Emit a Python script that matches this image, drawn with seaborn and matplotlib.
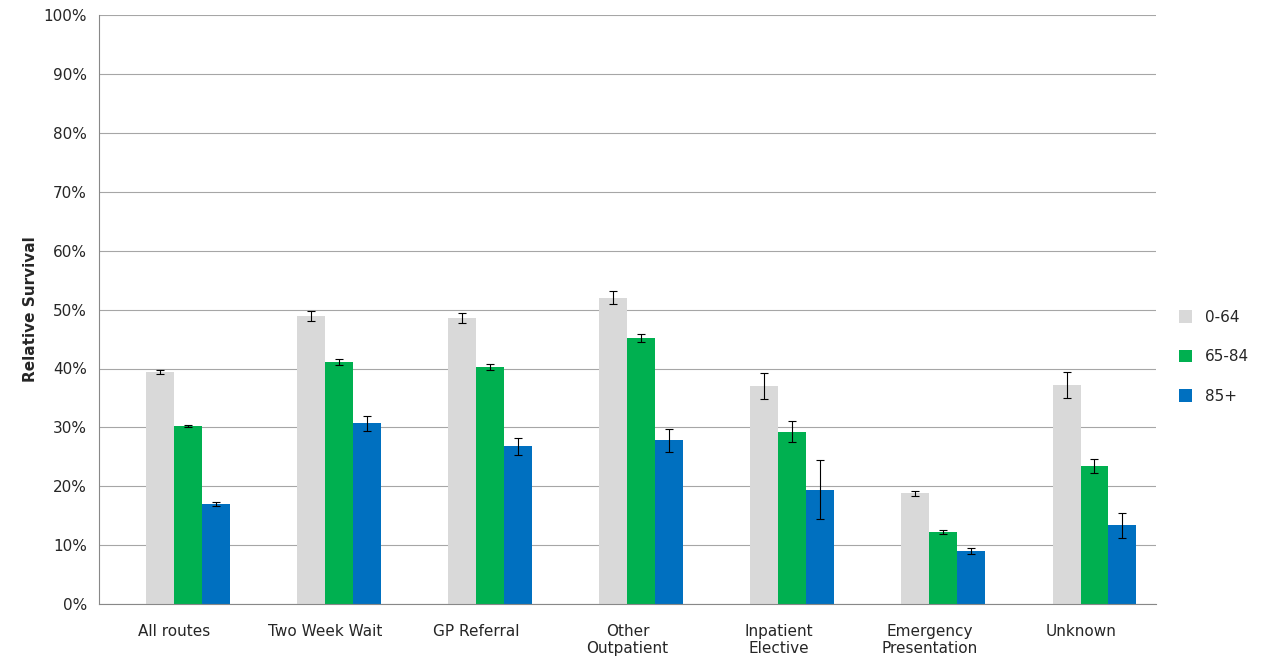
import numpy as np
import pandas as pd
import seaborn as sns
import matplotlib.pyplot as plt

routes = ['All routes', 'Two Week Wait', 'GP Referral', 'Other\nOutpatient',
          'Inpatient\nElective', 'Emergency\nPresentation', 'Unknown']
ages = ['0-64', '65-84', '85+']
surv_0_64 = [39.4, 48.9, 48.6, 52.0, 37.0, 18.8, 37.2]
surv_65_84 = [30.3, 41.1, 40.2, 45.2, 29.3, 12.3, 23.4]
surv_85 = [17.0, 30.7, 26.8, 27.8, 19.4, 9.0, 13.4]
err_0_64 = [0.4, 0.8, 0.8, 1.1, 2.2, 0.5, 2.2]
err_65_84 = [0.2, 0.5, 0.5, 0.7, 1.8, 0.3, 1.2]
err_85 = [0.4, 1.3, 1.4, 2.0, 5.0, 0.5, 2.1]
colors = ['#d9d9d9', '#00b050', '#0070c0']

df = pd.DataFrame({
    'route': routes * 3,
    'age': np.repeat(ages, len(routes)),
    'value': surv_0_64 + surv_65_84 + surv_85,
    'err': err_0_64 + err_65_84 + err_85,
})

sns.set_style('white')
plt.rcParams['font.family'] = ['DejaVu Sans']
fig, ax = plt.subplots(figsize=(12.68, 6.70), dpi=100)
sns.barplot(data=df, x='route', y='value', hue='age', palette=colors,
            errorbar=None, width=0.555, ax=ax, saturation=1, linewidth=0)

# Excel-style: the bar group sits slightly right of the category centre
shift = 0.09
for container, (_, grp) in zip(ax.containers, df.groupby('age', sort=False)):
    for p in container.patches:
        p.set_x(p.get_x() + shift)
    xs = [p.get_x() + p.get_width() / 2 for p in container.patches]
    ax.errorbar(xs, grp['value'], yerr=grp['err'], fmt='none', ecolor='black',
                elinewidth=0.8, capsize=3, capthick=0.8)

ax.set_ylim(0, 100)
ax.set_yticks(range(0, 101, 10))
ax.set_yticklabels([f'{v}%' for v in range(0, 101, 10)], fontsize=11)
ax.tick_params(axis='x', labelsize=11, length=0, pad=14)
ax.tick_params(axis='y', length=5, color='#888888')
ax.set_xlim(-0.5, len(routes) - 0.5)
ax.set_xticks(np.arange(-0.5, len(routes)), minor=True)
ax.tick_params(axis='x', which='minor', length=5, color='#888888')
ax.grid(axis='y', color='#a6a6a6', linewidth=0.8)
ax.set_axisbelow(True)
for s in ['top', 'right']:
    ax.spines[s].set_visible(False)
ax.spines['left'].set_color('#888888')
ax.spines['bottom'].set_color('#888888')
ax.set_xlabel('')
ax.set_ylabel('Relative Survival', fontsize=11, fontweight='bold')
ax.legend(loc='center left', bbox_to_anchor=(1.008, 0.42), frameon=False,
          fontsize=11, handlelength=0.9, handleheight=0.9, labelspacing=1.6)

fig.subplots_adjust(left=0.078, right=0.912, top=0.978, bottom=0.098)
fig.savefig('out.png')
